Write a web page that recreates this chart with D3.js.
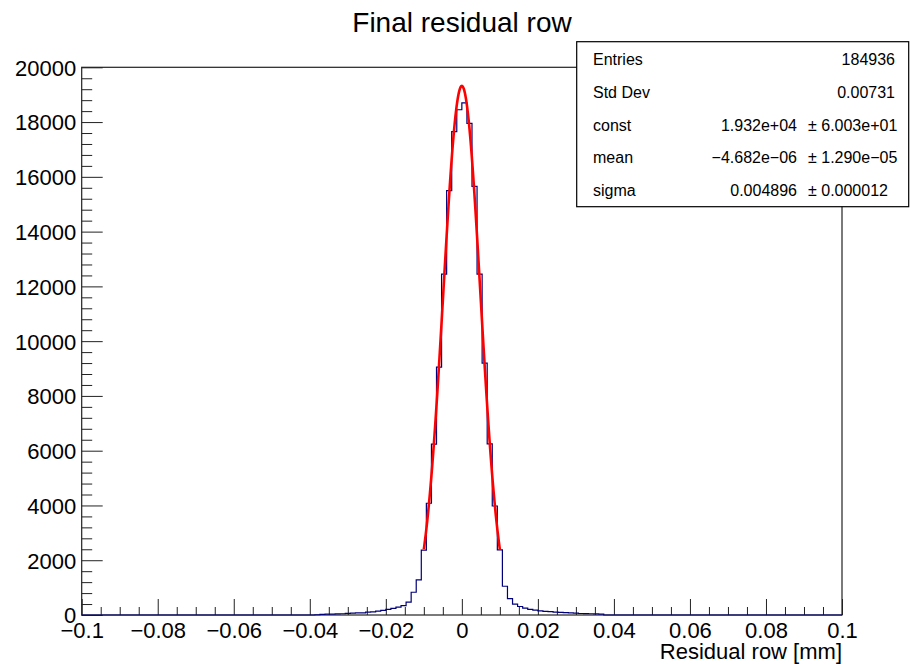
<!DOCTYPE html>
<html>
<head>
<meta charset="utf-8">
<script src="https://cdn.jsdelivr.net/npm/d3@7"></script>
<style>
  html, body { margin: 0; padding: 0; background: #fff; }
  svg { display: block; }
  text { font-family: "Liberation Sans", Arial, Helvetica, sans-serif; }
</style>
</head>
<body>
<svg id="chart" width="910" height="664"></svg>
<script>
// Histogram binning: 150 bins over [-0.1, 0.1]
const xMin = -0.1;
const xMax = 0.1;
const nBins = 150;

// Bin contents, bin 0 at x = -0.1
const binCounts = [
  0, 0, 0, 0, 0, 0, 0, 0, 0, 0,
  0, 0, 0, 0, 0, 0, 0, 0, 0, 0,
  0, 0, 0, 0, 0, 0, 0, 0, 0, 0,
  0, 0, 0, 0, 0, 0, 0, 0, 0, 0,
  0, 0, 0, 0, 0, 0, 10, 25, 30, 35,
  40, 45, 60, 65, 75, 80, 105, 115, 145, 170,
  205, 240, 290, 345, 470, 830, 1280, 2370, 4080, 6240,
  9050, 12450, 15500, 17650, 18450, 18700, 17950, 15650, 12450, 9200,
  6250, 3980, 2380, 1050, 600, 400, 310, 250, 205, 175,
  150, 135, 120, 105, 95, 85, 75, 65, 55, 50,
  45, 40, 35, 0, 0, 0, 0, 0, 0, 0,
  0, 0, 0, 0, 0, 0, 0, 0, 0, 0,
  0, 0, 0, 0, 0, 0, 0, 0, 0, 0,
  0, 0, 0, 0, 0, 0, 0, 0, 0, 0,
  0, 0, 0, 0, 0, 0, 0, 0, 0, 0
];

// Gaussian fit parameters and range
const fitConst = 1.932e4;
const fitMean = -4.682e-6;
const fitSigma = 0.004896;
const fitRange = [-0.01, 0.01];

// Axis ticks and labels
const xTickValues = [-0.1, -0.08, -0.06, -0.04, -0.02, 0, 0.02, 0.04, 0.06, 0.08, 0.1];
const xTickLabels = ["\u22120.1", "\u22120.08", "\u22120.06", "\u22120.04", "\u22120.02", "0", "0.02", "0.04", "0.06", "0.08", "0.1"];
const yTickValues = [0, 2000, 4000, 6000, 8000, 10000, 12000, 14000, 16000, 18000, 20000];
const yTickLabels = ["0", "2000", "4000", "6000", "8000", "10000", "12000", "14000", "16000", "18000", "20000"];

// Statistics box rows
const statNames = ["Entries", "Std Dev", "const", "mean", "sigma"];
const statValues = ["184936", "0.00731", "1.932e+04", "\u22124.682e\u221206", "0.004896"];
const statErrors = [null, null, "\u00b1 6.003e+01", "\u00b1 1.290e\u221205", "\u00b1 0.000012"];

const titleText = "Final residual row";
const xAxisTitle = "Residual row [mm]";

const svg = d3.select("#chart");
const frame = { left: 81.7, right: 842, top: 67.3, bottom: 615 };

const x = d3.scaleLinear().domain([xMin, xMax]).range([frame.left, frame.right]);
const y = d3.scaleLinear().domain([0, 20000]).range([frame.bottom, frame.top]);

// Title
svg.append("text")
  .attr("x", 462).attr("y", 32)
  .attr("text-anchor", "middle")
  .attr("font-size", 28)
  .text(titleText);

// Frame
svg.append("rect")
  .attr("x", frame.left).attr("y", frame.top)
  .attr("width", frame.right - frame.left)
  .attr("height", frame.bottom - frame.top)
  .attr("fill", "none")
  .attr("stroke", "#222")
  .attr("stroke-width", 1.2);

// Minor ticks
const xMinor = d3.range(-0.1, 0.1001, 0.005).filter(v => Math.abs(Math.round(v * 50) - v * 50) > 1e-6);
const yMinor = d3.range(0, 20001, 400).filter(v => v % 2000 !== 0);

const xAxis = d3.axisBottom(x).tickValues(xTickValues).tickSizeInner(-16).tickSizeOuter(0)
  .tickFormat((d, i) => xTickLabels[i]);
const gx = svg.append("g").attr("transform", `translate(0,${frame.bottom})`).call(xAxis);
gx.select(".domain").remove();
gx.selectAll("line").attr("stroke", "#222");
gx.selectAll("text").attr("font-size", 22).attr("fill", "#000").attr("dy", "0").attr("y", 23);

const gxm = svg.append("g").attr("transform", `translate(0,${frame.bottom})`)
  .call(d3.axisBottom(x).tickValues(xMinor).tickSizeInner(-8).tickSizeOuter(0).tickFormat(""));
gxm.select(".domain").remove();
gxm.selectAll("line").attr("stroke", "#222");

const yAxis = d3.axisLeft(y).tickValues(yTickValues).tickSizeInner(-21).tickSizeOuter(0)
  .tickFormat((d, i) => yTickLabels[i]).tickPadding(5.5);
const gy = svg.append("g").attr("transform", `translate(${frame.left},0)`).call(yAxis);
gy.select(".domain").remove();
gy.selectAll("line").attr("stroke", "#222");
gy.selectAll("text").attr("font-size", 22).attr("fill", "#000").attr("dy", "0.36em");

const gym = svg.append("g").attr("transform", `translate(${frame.left},0)`)
  .call(d3.axisLeft(y).tickValues(yMinor).tickSizeInner(-10.5).tickSizeOuter(0).tickFormat(""));
gym.select(".domain").remove();
gym.selectAll("line").attr("stroke", "#222");

// Histogram outline
const binWidth = (xMax - xMin) / nBins;
const histPoints = binCounts.map((c, i) => [xMin + i * binWidth, c]);
histPoints.push([xMax, binCounts[nBins - 1]]);
const histLine = d3.line()
  .x(d => x(d[0]))
  .y(d => y(d[1]))
  .curve(d3.curveStepAfter);
svg.append("path")
  .datum(histPoints)
  .attr("d", histLine)
  .attr("fill", "none")
  .attr("stroke", "#00007a")
  .attr("stroke-width", 1.2);

// Gaussian fit curve
const gauss = v => fitConst * Math.exp(-0.5 * Math.pow((v - fitMean) / fitSigma, 2));
const fitPts = d3.range(0, 201).map(k => {
  const v = fitRange[0] + (fitRange[1] - fitRange[0]) * k / 200;
  return [v, gauss(v)];
});
svg.append("path")
  .datum(fitPts)
  .attr("d", d3.line().x(d => x(d[0])).y(d => y(d[1])).curve(d3.curveLinear))
  .attr("fill", "none")
  .attr("stroke", "#ff0000")
  .attr("stroke-width", 2.6)
  .attr("stroke-linejoin", "round");

// Axis title
svg.append("text")
  .attr("x", frame.right).attr("y", 659)
  .attr("text-anchor", "end")
  .attr("font-size", 22)
  .text(xAxisTitle);

// Statistics box
const box = { x: 576.7, y: 41.7, w: 332, h: 165 };
svg.append("rect")
  .attr("x", box.x).attr("y", box.y)
  .attr("width", box.w).attr("height", box.h)
  .attr("fill", "#fff")
  .attr("stroke", "#000")
  .attr("stroke-width", 1.2);

const rowY = d3.scaleLinear().domain([0, statNames.length - 1]).range([59.5, 190]);
const rows = svg.append("g").selectAll("g").data(statNames).join("g")
  .attr("transform", (d, i) => `translate(0,${rowY(i)})`);
rows.append("text")
  .attr("x", 593).attr("dy", "0.36em")
  .attr("font-size", 16)
  .text(d => d);
rows.append("text")
  .attr("x", (d, i) => statErrors[i] ? 797 : 895)
  .attr("dy", "0.36em")
  .attr("text-anchor", "end")
  .attr("font-size", 16)
  .text((d, i) => statValues[i]);
rows.filter((d, i) => statErrors[i] !== null).append("text")
  .attr("x", 808).attr("dy", "0.36em")
  .attr("text-anchor", "start")
  .attr("font-size", 16)
  .text(d => statErrors[statNames.indexOf(d)]);
</script>
</body>
</html>
